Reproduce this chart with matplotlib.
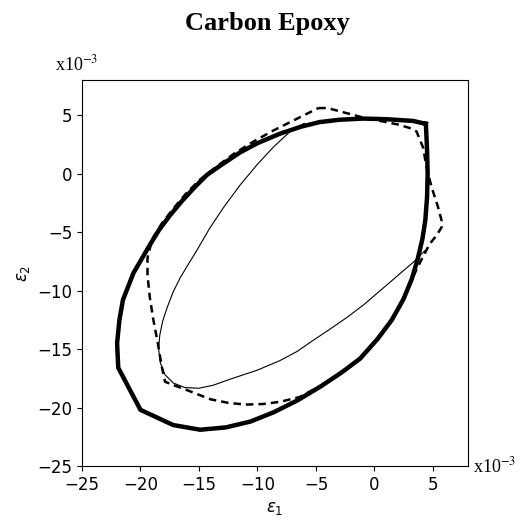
import numpy as np
import matplotlib
matplotlib.use("Agg")
import matplotlib.pyplot as plt

# strain values, in units of 1e-3
thick_e1 = [4.4, 4.5, 4.55, 4.5, 4.35, 4.1, 3.7, 3.2, 2.5, 1.5, 0.3, -1.2, -2.8, -4.6,
            -6.6, -8.6, -10.6, -12.7, -14.9, -17.2, -20.0, -20.9, -21.9, -22.0, -21.8, -21.5,
            -20.6, -19.9, -19.2, -18.4, -17.5, -16.5, -15.4, -14.3, -13.0, -11.5, -10.0, -8.1,
            -6.3, -4.7, -3.0, -1.0, 1.0, 3.3, 4.4]
thick_e2 = [4.25, 2.0, 0.0, -2.0, -4.0, -5.6, -7.3, -9.0, -10.7, -12.5, -14.1, -15.8, -17.0, -18.2,
            -19.4, -20.4, -21.2, -21.7, -21.9, -21.5, -20.2, -18.5, -16.6, -14.5, -12.5, -10.8,
            -8.5, -7.3, -6.1, -4.8, -3.6, -2.4, -1.2, -0.1, 0.8, 1.8, 2.6, 3.4,
            4.0, 4.4, 4.6, 4.7, 4.65, 4.5, 4.25]

dash_e1 = [-4.8, -4.0, -2.5, -1.0, 0.5, 2.0, 3.0, 3.6, 4.17, 4.46, 4.9, 5.45, 5.74, 5.74,
           5.3, 4.74, 4.2, 3.6, 3.0, 2.3, 1.3, 0.1, -1.4, -3.0, -4.7, -6.4, -8.0, -9.5,
           -11.0, -12.5, -14.0, -15.8, -17.9, -18.2, -18.5, -18.9, -19.2, -19.4, -19.4, -19.0,
           -18.2, -17.2, -16.1, -14.9, -13.5, -12.0, -10.4, -8.8, -7.2, -6.0, -4.8]
dash_e2 = [5.6, 5.6, 5.2, 4.8, 4.5, 4.2, 3.9, 3.6, 2.2, 0.5, -1.2, -2.9, -4.0, -4.6,
           -5.3, -6.0, -7.0, -8.2, -9.5, -11.0, -12.7, -14.3, -15.9, -17.1, -18.2, -19.1, -19.5, -19.7,
           -19.75, -19.6, -19.3, -18.6, -17.8, -16.4, -14.6, -12.5, -10.6, -8.7, -7.2, -5.6,
           -4.3, -3.0, -1.7, -0.5, 0.6, 1.7, 2.7, 3.6, 4.4, 5.0, 5.6]

thin_e1 = [-6.0, -7.2, -8.6, -10.0, -11.5, -12.9, -14.1, -15.2, -16.0, -16.6, -17.2, -17.7,
           -18.1, -18.35, -18.45, -18.3, -17.9, -17.2, -16.2, -15.0, -13.8, -12.4, -10.0, -8.1,
           -6.6, -5.3, -3.8, -2.35, -0.9, 0.5, 1.9, 3.3, 4.3]
thin_e2 = [4.3, 3.6, 2.3, 0.8, -1.0, -2.9, -4.7, -6.6, -7.9, -8.9, -10.1, -11.4,
           -12.6, -13.8, -15.0, -16.2, -17.2, -17.9, -18.3, -18.35, -18.1, -17.6, -16.8, -16.0,
           -15.2, -14.3, -13.3, -12.3, -11.2, -10.0, -8.8, -7.6, -6.6]

ticks = [-25, -20, -15, -10, -5, 0, 5]

plt.rcParams['font.size'] = 12

fig = plt.figure(figsize=(5.24, 5.22), dpi=100)
ax = fig.add_axes([82 / 524, 1 - 466 / 522, 386 / 524, 386 / 522])

ax.plot(thick_e1, thick_e2, color='black', lw=3.2, solid_joinstyle='miter')
ax.plot(dash_e1, dash_e2, color='black', lw=1.8, ls=(0, (3, 2)))
ax.plot(thin_e1, thin_e2, color='black', lw=0.8)

ax.set_xlim(-25, 8)
ax.set_ylim(-25, 8)
ax.set_xticks(ticks)
ax.set_yticks(ticks)
ax.set_xlabel(r'$\varepsilon_1$')
ax.set_ylabel(r'$\varepsilon_2$')

fig.text(267 / 524, 1 - 30 / 522, 'Carbon Epoxy', ha='center', va='baseline',
         fontsize=19, fontweight='bold', family='Liberation Serif')
fig.text(55 / 524, 1 - 70 / 522, r'x10$^{-3}$', ha='left', va='baseline',
         fontsize=13, family='Liberation Serif', math_fontfamily='stix')
fig.text(473 / 524, 1 - 472 / 522, r'x10$^{-3}$', ha='left', va='baseline',
         fontsize=13, family='Liberation Serif', math_fontfamily='stix')

fig.savefig('out.png', dpi=100)
